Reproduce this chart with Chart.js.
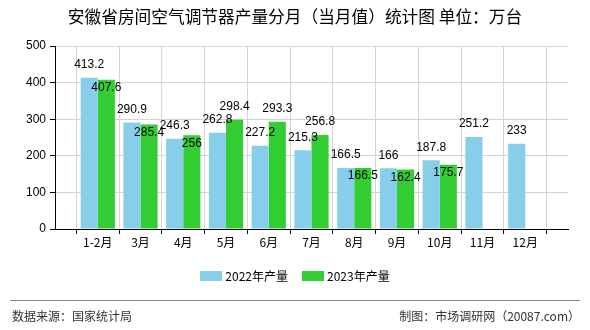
<!DOCTYPE html>
<html>
<head>
<meta charset="utf-8">
<script src="https://cdn.jsdelivr.net/npm/chart.js@4/dist/chart.umd.min.js"></script>
<style>
body{margin:0;background:#fff;}
.wrap{position:relative;width:590px;height:330px;font-family:"Noto Sans CJK SC",sans-serif;}
.wrap canvas{position:absolute;left:0;top:0;}
.title{position:absolute;left:0;top:5px;width:590px;text-align:center;font-size:16.7px;line-height:22px;color:#000;}
.legend{position:absolute;left:0;top:268px;width:590px;display:flex;justify-content:center;font-size:12px;line-height:16px;color:#000;}
.legend span{display:flex;align-items:center;margin:0 7px;}
.legend i{display:inline-block;width:22px;height:10px;margin-right:3px;}
.line{position:absolute;left:10px;top:300px;width:570px;height:1px;background:#888;}
.src{position:absolute;left:12px;top:307px;font-size:12px;line-height:18px;color:#333;}
.maker{position:absolute;right:10px;top:307px;font-size:12px;line-height:18px;color:#333;}
</style>
</head>
<body>
<div class="wrap">
  <canvas id="c" width="590" height="330"></canvas>
  <div class="title">安徽省房间空气调节器产量分月（当月值）统计图 单位：万台</div>
  <div class="legend">
    <span><i style="background:#87CEEB"></i>2022年产量</span>
    <span><i style="background:#32CD32"></i>2023年产量</span>
  </div>
  <div class="line"></div>
  <div class="src">数据来源：国家统计局</div>
  <div class="maker">制图：市场调研网（20087.com）</div>
</div>
<script>
const months=['1-2月','3月','4月','5月','6月','7月','8月','9月','10月','11月','12月'];
const y2022=[413.2,290.9,246.3,262.8,227.2,215.3,166.5,166,187.8,251.2,233];
const y2023=[407.6,285.4,256,298.4,293.3,256.8,166.5,162.4,175.7];
const seriesNames=['2022年产量','2023年产量'];
const yTicks=[0,100,200,300,400,500];

// empty slot on each side so the months sit between the axis ends
const labels=[''].concat(months,['']);
const pad=arr=>{
  const out=[null].concat(arr);
  while(out.length<labels.length) out.push(null);
  return out;
};

const labelFont='12px "Liberation Sans", sans-serif';
const valueLabels={
  id:'valueLabels',
  afterDatasetsDraw(chart){
    const ctx=chart.ctx;
    ctx.save();
    ctx.font=labelFont;
    ctx.fillStyle='#000';
    ctx.textAlign='center';
    ctx.textBaseline='middle';
    const m0=chart.getDatasetMeta(0), m1=chart.getDatasetMeta(1);
    labels.forEach((l,i)=>{
      let r0=null;
      const v0=chart.data.datasets[0].data[i];
      if(v0!=null){
        const b=m0.data[i], t=String(v0);
        r0={x:b.x,y:b.y-13,w:ctx.measureText(t).width};
        ctx.fillText(t,r0.x,r0.y);
      }
      const v1=chart.data.datasets[1].data[i];
      if(v1!=null){
        const b=m1.data[i], t=String(v1), w=ctx.measureText(t).width;
        let y=b.y-13;
        // push the 2023 label into the bar when it would sit on the 2022 one
        if(r0 && Math.abs(r0.y-y)<12 && Math.abs(r0.x-b.x)<(r0.w+w)/2) y=b.y+8;
        ctx.fillText(t,b.x,y);
      }
    });
    ctx.restore();
  }
};

new Chart(document.getElementById('c'),{
  type:'bar',
  data:{
    labels:labels,
    datasets:[
      {label:seriesNames[0],data:pad(y2022),backgroundColor:'#87CEEB'},
      {label:seriesNames[1],data:pad(y2023),backgroundColor:'#32CD32'}
    ]
  },
  options:{
    responsive:false,
    animation:false,
    events:[],
    layout:{padding:{left:0,right:22,top:46,bottom:0}},
    datasets:{bar:{categoryPercentage:0.8,barPercentage:1.0}},
    plugins:{legend:{display:false},title:{display:false},tooltip:{enabled:false}},
    scales:{
      x:{
        offset:false,
        grid:{color:'#d4d4d4',tickColor:'#000',tickLength:5},
        border:{color:'#000',width:1},
        ticks:{color:'#000',font:{size:12,family:'"Noto Sans CJK SC", sans-serif'},padding:1,maxRotation:0,autoSkip:false},
        afterFit:s=>{s.height=101;}
      },
      y:{
        min:0,max:500,
        afterBuildTicks:s=>{s.ticks=yTicks.map(v=>({value:v}));},
        grid:{color:'#d4d4d4',tickColor:'#000',tickLength:5},
        border:{color:'#000',width:1},
        ticks:{color:'#000',font:{size:12,family:'"Liberation Sans", sans-serif'},padding:4},
        afterFit:s=>{s.width=55;}
      }
    }
  },
  plugins:[valueLabels]
});
</script>
</body>
</html>
